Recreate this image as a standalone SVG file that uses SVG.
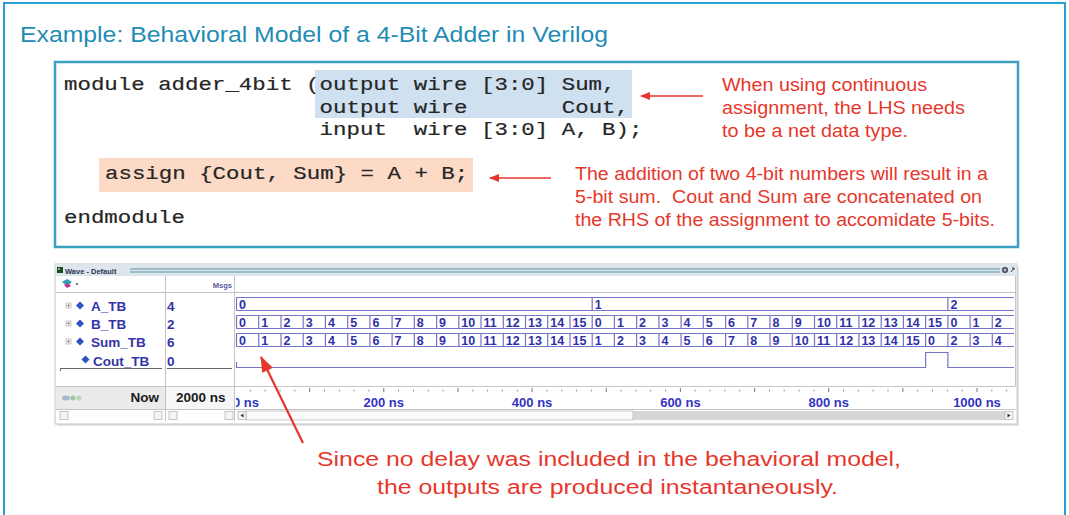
<svg xmlns="http://www.w3.org/2000/svg" width="1069" height="515" viewBox="0 0 1069 515">
<defs>
<style>
.code{font-family:"Liberation Mono","Courier New",monospace;font-size:19px;fill:#262626;stroke:#262626;stroke-width:0.2}
.red{font-family:"Liberation Sans",Arial,sans-serif;fill:#e6372c}
.n17{font-size:17.5px}
.n20{font-size:20px}
.sig{font-family:"Liberation Sans",Arial,sans-serif;font-weight:bold;font-size:13.5px;fill:#3434a8}
.bus{fill:none;stroke:#7474c8;stroke-width:1.2}
.bv{font-family:"Liberation Sans",Arial,sans-serif;font-weight:bold;font-size:12.5px;fill:#3030a6}
.tl{font-family:"Liberation Sans",Arial,sans-serif;font-weight:bold;font-size:13px;fill:#3333c4;text-anchor:middle}
.blk{font-family:"Liberation Sans",Arial,sans-serif;font-weight:bold;font-size:13.5px;fill:#1a1a1a}
.tiny{font-family:"Liberation Sans",Arial,sans-serif;font-weight:bold;font-size:7.5px}
.grid{stroke:#c4c4c4;stroke-width:1;fill:none}
.arr{stroke:#e6372c;fill:none}
.sb{fill:#f4f4f4;stroke:#b8b8b8;stroke-width:0.8}
</style>
<marker id="ah" markerWidth="10" markerHeight="8" refX="9" refY="4" orient="auto" markerUnits="userSpaceOnUse"><path d="M0,0 L10,4 L0,8 z" fill="#e6372c"/></marker>
<marker id="ahBig" markerWidth="16" markerHeight="12" refX="15" refY="6" orient="auto" markerUnits="userSpaceOnUse"><path d="M0,0 L16,6 L0,12 z" fill="#e6372c"/></marker>
<clipPath id="wclip"><rect x="236" y="276" width="780" height="146"/></clipPath>
<path id="tr35" d="M236.5,0V13M258.7,0V13M281,0V13M303.2,0V13M325.4,0V13M347.7,0V13M369.9,0V13M392.1,0V13M414.3,0V13M436.6,0V13M458.8,0V13M481,0V13M503.3,0V13M525.5,0V13M547.7,0V13M570,0V13M592.2,0V13M614.4,0V13M636.6,0V13M658.9,0V13M681.1,0V13M703.3,0V13M725.6,0V13M747.8,0V13M770,0V13M792.3,0V13M814.5,0V13M836.7,0V13M858.9,0V13M881.2,0V13M903.4,0V13M925.6,0V13M947.9,0V13M970.1,0V13M992.3,0V13M236.5,0H1014M236.5,13H1014"/>
</defs>

<rect x="4" y="3" width="1061" height="530" fill="#ffffff" stroke="#2a9fd6" stroke-width="2"/>

<g id="title">
<text x="20" y="42" font-family="Liberation Sans, Arial, sans-serif" font-size="22.5" fill="#1f8cb4" textLength="588" lengthAdjust="spacingAndGlyphs">Example: Behavioral Model of a 4-Bit Adder in Verilog</text>
</g>

<g id="code-box">
<rect x="55" y="62" width="963" height="185" fill="#ffffff" stroke="#3d9fc0" stroke-width="2.5"/>
<rect x="315" y="70" width="317" height="48" fill="#cfe1f0"/>
<rect x="99" y="158" width="374" height="34" fill="#fcdac6"/>
<text class="code" x="64" y="90" xml:space="preserve" textLength="551.5" lengthAdjust="spacingAndGlyphs">module adder_4bit (output wire [3:0] Sum,</text>
<text class="code" x="319.6" y="112.5" xml:space="preserve" textLength="309.4" lengthAdjust="spacingAndGlyphs">output wire       Cout,</text>
<text class="code" x="319.6" y="135" xml:space="preserve" textLength="322.8" lengthAdjust="spacingAndGlyphs">input  wire [3:0] A, B);</text>
<text class="code" x="105" y="179" xml:space="preserve" textLength="363.2" lengthAdjust="spacingAndGlyphs">assign {Cout, Sum} = A + B;</text>
<text class="code" x="64" y="223" textLength="121" lengthAdjust="spacingAndGlyphs">endmodule</text>
</g>

<g id="note-lhs" class="red n17">
<text x="722" y="91" textLength="205" lengthAdjust="spacingAndGlyphs">When using continuous</text>
<text x="722" y="114" textLength="243" lengthAdjust="spacingAndGlyphs">assignment, the LHS needs</text>
<text x="722" y="137" textLength="186" lengthAdjust="spacingAndGlyphs">to be a net data type.</text>
</g>

<g id="note-rhs" class="red n17">
<text x="575" y="180" textLength="413" lengthAdjust="spacingAndGlyphs">The addition of two 4-bit numbers will result in a</text>
<text x="575" y="203" xml:space="preserve" textLength="407" lengthAdjust="spacingAndGlyphs">5-bit sum.  Cout and Sum are concatenated on</text>
<text x="575" y="226" textLength="420" lengthAdjust="spacingAndGlyphs">the RHS of the assignment to accomidate 5-bits.</text>
</g>

<g id="wave-window">
<rect x="57" y="266" width="962" height="160" fill="#e4e4e4"/>
<rect x="55" y="264" width="962" height="160" fill="#ffffff" stroke="#c4c4c4"/>
<rect x="55.5" y="264.5" width="961" height="11.5" fill="#dde6ed"/>
<rect x="57" y="267" width="6" height="6" fill="#1f4a2a"/>
<rect x="58" y="268" width="2" height="2" fill="#7fc070"/>
<text class="tiny" x="65" y="273.5" fill="#2a3450">Wave - Default</text>
<path d="M130,269H1000M130,272H1000" stroke="#5f8fa6" stroke-width="1"/>
<circle cx="1005" cy="270" r="3" fill="#3a4450"/>
<path d="M1003.3,270H1006.7M1005,268.3V271.7" stroke="#fff" stroke-width="0.8"/>
<path d="M1011,272L1014,268M1012,268H1014V270" stroke="#3a4450" stroke-width="1" fill="none"/>
<path d="M62,282 l5,-3 l5,3 l-5,4z" fill="#28a0b0"/>
<path d="M64,285 l4,-2 l3,3 l-4,2z" fill="#c0309a"/>
<circle cx="77" cy="284" r="1" fill="#444"/>
<text class="tiny" x="232" y="287.5" fill="#5a5aa0" text-anchor="end">Msgs</text>
<path class="grid" d="M56,292.5H1015.5M165.5,276V421M234.5,276V421M1015.5,276V386M56,386.5H1015.5M56,409.5H1015.5"/>
<g id="sig-A">
<rect x="66" y="303" width="5" height="5" fill="#f0f0f0" stroke="#aaa" stroke-width="0.6"/><path d="M67,305.5H70M68.5,304V307" stroke="#777" stroke-width="0.6"/>
<path d="M80,301.5l4,4l-4,4l-4,-4z" fill="#2f52c4"/>
<text class="sig" x="91" y="311">A_TB</text>
<text class="sig" x="167" y="311">4</text>
</g>
<g id="sig-B">
<rect x="66" y="321" width="5" height="5" fill="#f0f0f0" stroke="#aaa" stroke-width="0.6"/><path d="M67,323.5H70M68.5,322V325" stroke="#777" stroke-width="0.6"/>
<path d="M80,319.5l4,4l-4,4l-4,-4z" fill="#2f52c4"/>
<text class="sig" x="91" y="329">B_TB</text>
<text class="sig" x="167" y="329">2</text>
</g>
<g id="sig-Sum">
<rect x="66" y="339" width="5" height="5" fill="#f0f0f0" stroke="#aaa" stroke-width="0.6"/><path d="M67,341.5H70M68.5,340V343" stroke="#777" stroke-width="0.6"/>
<path d="M80,337.5l4,4l-4,4l-4,-4z" fill="#2f52c4"/>
<text class="sig" x="91" y="347">Sum_TB</text>
<text class="sig" x="167" y="347">6</text>
</g>
<g id="sig-Cout">
<path d="M85.5,355.5l4,4l-4,4l-4,-4z" fill="#2f52c4"/>
<text class="sig" x="93" y="365.5">Cout_TB</text>
<text class="sig" x="167" y="365.5">0</text>
<path d="M60,368.5H162M167,368.5H232M60.5,368.5V371" stroke="#666" stroke-width="1" fill="none"/>
</g>
<g id="waves">
<path class="bus" d="M236.5,297.5V310.5M592.2,297.5V310.5M947.9,297.5V310.5M236.5,297.5H1014M236.5,310.5H1014"/>
<text class="bv" y="308.5"><tspan x="239">0</tspan><tspan x="594.7">1</tspan><tspan x="950.4">2</tspan></text>
<use href="#tr35" class="bus" transform="translate(0,315.5)"/>
<text class="bv" y="326.5"><tspan x="239">0</tspan><tspan x="261.2">1</tspan><tspan x="283.5">2</tspan><tspan x="305.7">3</tspan><tspan x="327.9">4</tspan><tspan x="350.2">5</tspan><tspan x="372.4">6</tspan><tspan x="394.6">7</tspan><tspan x="416.8">8</tspan><tspan x="439.1">9</tspan><tspan x="461.3">10</tspan><tspan x="483.5">11</tspan><tspan x="505.8">12</tspan><tspan x="528">13</tspan><tspan x="550.2">14</tspan><tspan x="572.5">15</tspan><tspan x="594.7">0</tspan><tspan x="616.9">1</tspan><tspan x="639.1">2</tspan><tspan x="661.4">3</tspan><tspan x="683.6">4</tspan><tspan x="705.8">5</tspan><tspan x="728.1">6</tspan><tspan x="750.3">7</tspan><tspan x="772.5">8</tspan><tspan x="794.8">9</tspan><tspan x="817">10</tspan><tspan x="839.2">11</tspan><tspan x="861.4">12</tspan><tspan x="883.7">13</tspan><tspan x="905.9">14</tspan><tspan x="928.1">15</tspan><tspan x="950.4">0</tspan><tspan x="972.6">1</tspan><tspan x="994.8">2</tspan></text>
<use href="#tr35" class="bus" transform="translate(0,333.5)"/>
<text class="bv" y="344.5"><tspan x="239">0</tspan><tspan x="261.2">1</tspan><tspan x="283.5">2</tspan><tspan x="305.7">3</tspan><tspan x="327.9">4</tspan><tspan x="350.2">5</tspan><tspan x="372.4">6</tspan><tspan x="394.6">7</tspan><tspan x="416.8">8</tspan><tspan x="439.1">9</tspan><tspan x="461.3">10</tspan><tspan x="483.5">11</tspan><tspan x="505.8">12</tspan><tspan x="528">13</tspan><tspan x="550.2">14</tspan><tspan x="572.5">15</tspan><tspan x="594.7">1</tspan><tspan x="616.9">2</tspan><tspan x="639.1">3</tspan><tspan x="661.4">4</tspan><tspan x="683.6">5</tspan><tspan x="705.8">6</tspan><tspan x="728.1">7</tspan><tspan x="750.3">8</tspan><tspan x="772.5">9</tspan><tspan x="794.8">10</tspan><tspan x="817">11</tspan><tspan x="839.2">12</tspan><tspan x="861.4">13</tspan><tspan x="883.7">14</tspan><tspan x="905.9">15</tspan><tspan x="928.1">0</tspan><tspan x="950.4">2</tspan><tspan x="972.6">3</tspan><tspan x="994.8">4</tspan></text>
<path class="bus" d="M236.5,362V367.5H925.6V352.5H947.9V367.5H1014"/>
</g>
<rect x="56" y="387" width="109" height="22" fill="#ebebeb"/>
<rect x="166" y="387" width="68" height="22" fill="#f6f6f6"/>
<ellipse cx="66" cy="398" rx="4" ry="2.5" fill="#a8b8d0"/>
<circle cx="73" cy="398" r="2.5" fill="#9cc7a0"/>
<circle cx="79" cy="398" r="2.5" fill="#b8d8b0"/>
<text class="blk" x="159" y="402" text-anchor="end">Now</text>
<text class="blk" x="176" y="402">2000 ns</text>
<path stroke="#999" stroke-width="1" d="M250.3,389.5v2M265.2,389.5v2M280,389.5v2M294.8,389.5v2M324.5,389.5v2M339.3,389.5v2M354.1,389.5v2M369,389.5v2M398.6,389.5v2M413.5,389.5v2M428.3,389.5v2M443.1,389.5v2M472.8,389.5v2M487.6,389.5v2M502.4,389.5v2M517.3,389.5v2M546.9,389.5v2M561.8,389.5v2M576.6,389.5v2M591.4,389.5v2M621.1,389.5v2M635.9,389.5v2M650.7,389.5v2M665.6,389.5v2M695.2,389.5v2M710.1,389.5v2M724.9,389.5v2M739.7,389.5v2M769.4,389.5v2M784.2,389.5v2M799,389.5v2M813.9,389.5v2M843.5,389.5v2M858.4,389.5v2M873.2,389.5v2M888,389.5v2M917.7,389.5v2M932.5,389.5v2M947.3,389.5v2M962.2,389.5v2M991.8,389.5v2M1006.7,389.5v2"/>
<path stroke="#777" stroke-width="1" d="M309.7,388v4M383.8,388v4M458,388v4M532.1,388v4M606.3,388v4M680.4,388v4M754.6,388v4M828.7,388v4M902.9,388v4M977,388v4"/>
<g clip-path="url(#wclip)">
<text class="tl" x="233" y="407" style="text-anchor:start">0 ns</text>
</g>
<text class="tl" x="383.8" y="407">200 ns</text>
<text class="tl" x="532.1" y="407">400 ns</text>
<text class="tl" x="680.4" y="407">600 ns</text>
<text class="tl" x="828.7" y="407">800 ns</text>
<text class="tl" x="977" y="407">1000 ns</text>
<rect class="sb" x="60" y="411.5" width="8" height="8"/>
<rect class="sb" x="154" y="411.5" width="8" height="8"/>
<rect class="sb" x="169" y="411.5" width="8" height="8"/>
<rect class="sb" x="225" y="411.5" width="8" height="8"/>
<rect x="246" y="411" width="760" height="9" fill="#d6d6d6"/>
<rect x="246" y="411" width="387" height="9" fill="#fbfbfb" stroke="#bcbcbc" stroke-width="0.8"/>
<rect class="sb" x="238" y="411.5" width="8" height="8"/>
<path d="M243.5,413.5l-3,2l3,2z" fill="#333"/>
<rect class="sb" x="1005" y="411.5" width="8" height="8"/>
<path d="M1007.5,413.5l3,2l-3,2z" fill="#333"/>
</g>

<g id="connectors">
<line class="arr" x1="703" y1="96" x2="641" y2="96" stroke-width="1.6" marker-end="url(#ah)"/>
<line class="arr" x1="551" y1="178" x2="490" y2="178" stroke-width="1.6" marker-end="url(#ah)"/>
<line class="arr" x1="303" y1="443" x2="261" y2="357" stroke-width="2.2" marker-end="url(#ahBig)"/>
</g>

<g id="note-delay" class="red n20">
<text x="317" y="466" textLength="584" lengthAdjust="spacingAndGlyphs">Since no delay was included in the behavioral model,</text>
<text x="377" y="494" textLength="461" lengthAdjust="spacingAndGlyphs">the outputs are produced instantaneously.</text>
</g>
</svg>
